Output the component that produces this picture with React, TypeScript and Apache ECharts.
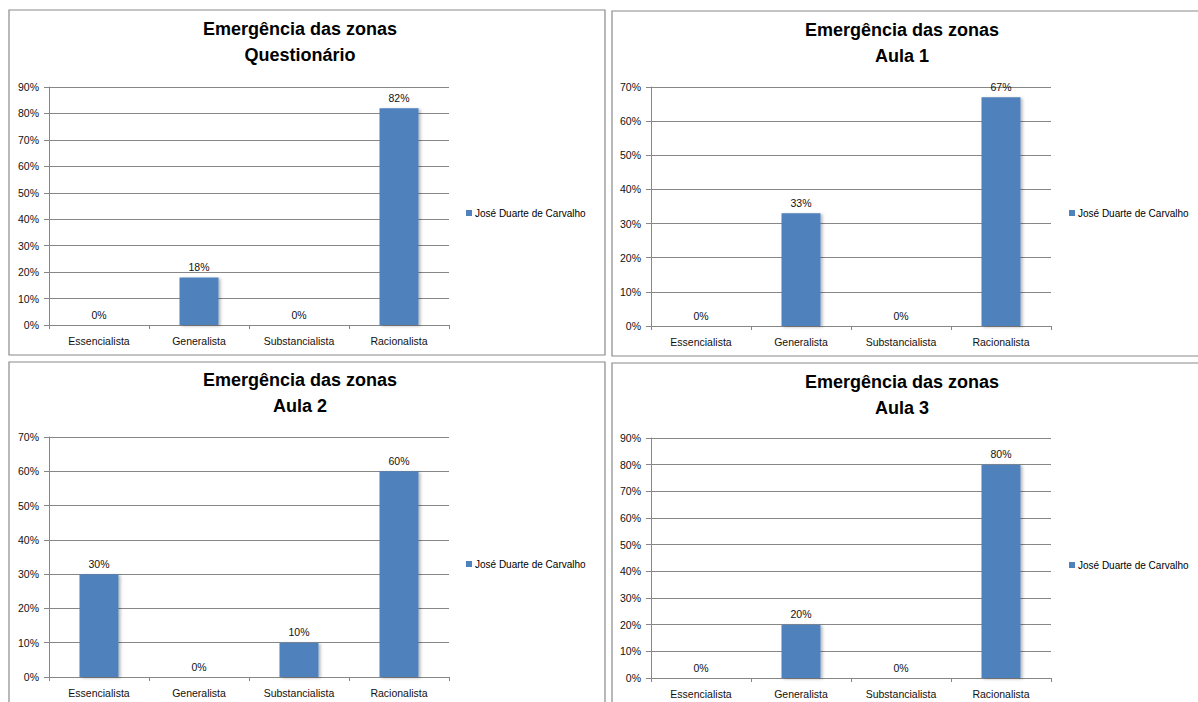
import React, { useEffect, useRef } from "react";
import * as echarts from "echarts";

const categories = ["Essencialista", "Generalista", "Substancialista", "Racionalista"];
const seriesName = "José Duarte de Carvalho";
const mainTitle = "Emergência das zonas";
const subTitles = ["Questionário", "Aula 1", "Aula 2", "Aula 3"];
const valuesQuestionario = [0, 18, 0, 82];
const valuesAula1 = [0, 33, 0, 67];
const valuesAula2 = [30, 0, 10, 60];
const valuesAula3 = [0, 20, 0, 80];
const yMaxes = [90, 70, 70, 90];

const FONT = "'Liberation Sans', Arial, sans-serif";
const GRID_COLOR = "#878787";
const BAR_COLOR = "#4F81BD";

// layout of the four panels
const panels = [
  { box: [9, 10, 596, 345], grid: [49, 87, 400, 238], title: [300, 29], legend: [466, 208], values: valuesQuestionario },
  { box: [612, 11, 600, 345], grid: [651, 87, 400, 239], title: [902, 30], legend: [1069, 208], values: valuesAula1 },
  { box: [9, 362, 596, 360], grid: [49, 437, 400, 240], title: [300, 380], legend: [466, 559], values: valuesAula2 },
  { box: [612, 363, 600, 360], grid: [651, 438, 400, 240], title: [902, 382], legend: [1069, 560], values: valuesAula3 },
];

export default function App() {
  const ref = useRef<HTMLDivElement>(null);
  useEffect(() => {
    if (!ref.current) return;
    const chart = echarts.init(ref.current, undefined, { renderer: "svg" });
    const graphic: any[] = [];
    panels.forEach((p, i) => {
      graphic.push({
        type: "rect",
        shape: { x: p.box[0], y: p.box[1], width: p.box[2], height: p.box[3] },
        style: { fill: "none", stroke: "#8a8a8a", lineWidth: 1.2 },
        silent: true,
      });
      graphic.push({
        type: "text",
        x: p.title[0],
        y: p.title[1],
        style: {
          text: mainTitle,
          align: "center",
          verticalAlign: "middle",
          fontFamily: FONT,
          fontWeight: "bold",
          fontSize: 18,
          fill: "#000",
        },
      });
      graphic.push({
        type: "text",
        x: p.title[0],
        y: p.title[1] + 26,
        style: {
          text: subTitles[i],
          align: "center",
          verticalAlign: "middle",
          fontFamily: FONT,
          fontWeight: "bold",
          fontSize: 18,
          fill: "#000",
        },
      });
    });

    const option: any = {
      animation: false,
      backgroundColor: "#ffffff",
      graphic,
      grid: panels.map((p) => ({
        left: p.grid[0],
        top: p.grid[1],
        width: p.grid[2],
        height: p.grid[3],
        containLabel: false,
      })),
      legend: panels.map((p) => ({
        left: p.legend[0],
        top: p.legend[1],
        data: [seriesName],
        icon: "rect",
        itemWidth: 6,
        itemHeight: 6,
        itemGap: 3,
        padding: 0,
        selectedMode: false,
        textStyle: { fontFamily: FONT, fontSize: 10, color: "#000", padding: [0, 0, 0, -2] },
      })),
      xAxis: panels.map((_, i) => ({
        type: "category",
        gridIndex: i,
        data: categories,
        axisLine: { show: true, lineStyle: { color: GRID_COLOR, width: 1 } },
        axisTick: { show: true, length: 4, alignWithLabel: false, lineStyle: { color: GRID_COLOR } },
        axisLabel: { fontFamily: FONT, fontSize: 10.5, color: "#111", margin: 10, interval: 0 },
        splitLine: { show: false },
      })),
      yAxis: panels.map((_, i) => ({
        type: "value",
        gridIndex: i,
        min: 0,
        max: yMaxes[i],
        interval: 10,
        axisLine: { show: true, lineStyle: { color: GRID_COLOR, width: 1 } },
        axisTick: { show: true, length: 5, inside: false, lineStyle: { color: GRID_COLOR } },
        axisLabel: { fontFamily: FONT, fontSize: 10.5, color: "#111", margin: 10, formatter: "{value}%" },
        splitLine: { show: true, lineStyle: { color: GRID_COLOR, width: 1 } },
      })),
      series: panels.map((p, i) => ({
        type: "bar",
        name: seriesName,
        xAxisIndex: i,
        yAxisIndex: i,
        data: p.values,
        barWidth: 39,
        itemStyle: {
          color: BAR_COLOR,
          shadowColor: "rgba(0,0,0,0.28)",
          shadowBlur: 3,
          shadowOffsetX: 2,
          shadowOffsetY: 1,
        },
        label: {
          show: true,
          position: "top",
          distance: 5,
          formatter: "{c}%",
          fontFamily: FONT,
          fontSize: 10.5,
          color: "#111",
        },
      })),
    };
    chart.setOption(option);
    return () => chart.dispose();
  }, []);
  return (
    <div
      ref={ref}
      style={{ position: "fixed", left: 0, top: 0, width: 1198, height: 702, background: "#fff" }}
    />
  );
}
